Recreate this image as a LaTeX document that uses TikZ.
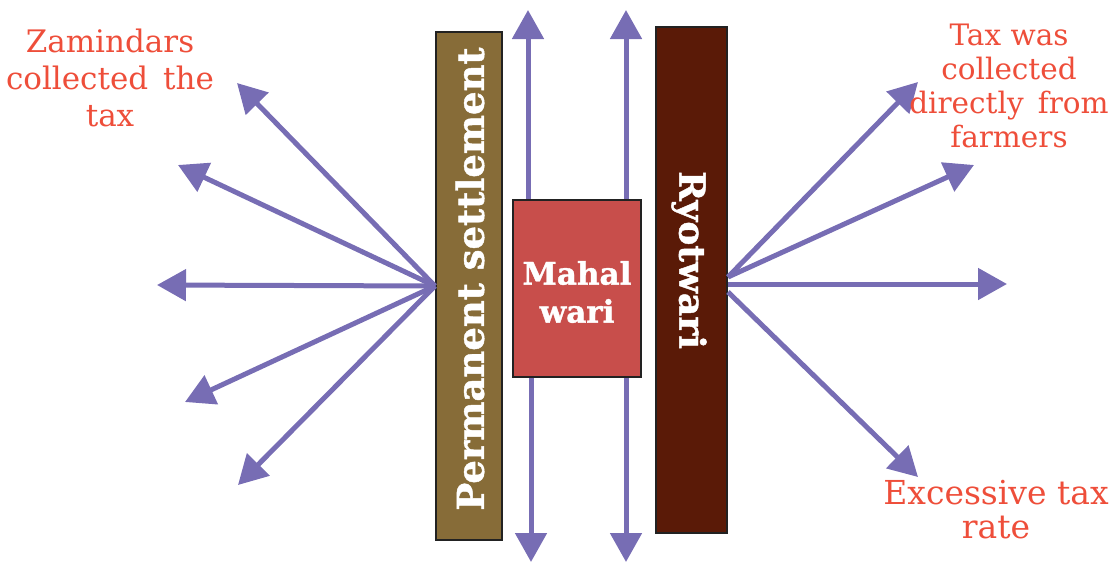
\documentclass[tikz,border=0pt]{standalone}
\usepackage{fontspec}
\setmainfont{DejaVu Serif}
\newfontfamily\heavyserif[FakeBold=1.2]{DejaVu Serif Bold}
\usetikzlibrary{arrows.meta,calc}
\definecolor{arr}{HTML}{776DB4}
\definecolor{lab}{HTML}{EE4E3A}
\definecolor{permc}{HTML}{876C38}
\definecolor{ryotc}{HTML}{5A1A07}
\definecolor{mahc}{HTML}{C84E4B}
\definecolor{edge}{HTML}{222222}
\begin{document}
\begin{tikzpicture}[x=1pt,y=-1pt,
  fan/.style={draw=arr,line width=5pt,-{Triangle[width=31pt,length=29pt]}},
  sysbox/.style={draw=edge,line width=2pt,inner sep=0pt},
  boxtext/.style={text=white,inner sep=0pt,align=center},
  label/.style={text=lab,align=center,inner sep=0pt}]
\useasboundingbox (0,0) rectangle (1113,563);
% vertical arrows (behind Mahalwari)
\coordinate (t1) at (528,10);
\coordinate (t2) at (626,10);
\coordinate (b1) at (531,562);
\coordinate (b2) at (626,562);
\node[sysbox,fill=mahc,minimum width=128pt,minimum height=177pt] (mw) at (577,288.5) {};
\draw[fan] (mw.north -| t1) -- (t1);
\draw[fan] (mw.north -| t2) -- (t2);
\draw[fan] (mw.south -| b1) -- (b1);
\draw[fan] (mw.south -| b2) -- (b2);
\node[sysbox,fill=mahc,minimum width=128pt,minimum height=177pt] (mw2) at (mw) {};
\node[boxtext,font=\heavyserif\fontsize{31}{38}\selectfont] (mwt) at (577,292) {Mahal\\wari};
% Permanent settlement
\node[sysbox,fill=permc,minimum width=66pt,minimum height=508pt] (ps) at (469,286) {};
\node[boxtext,rotate=90,font=\heavyserif\fontsize{37}{40}\selectfont] (pst) at (470,279) {Permanent settlement};
% Ryotwari
\node[sysbox,fill=ryotc,minimum width=71pt,minimum height=506pt] (ry) at (691.5,280) {};
\node[boxtext,rotate=-90,font=\heavyserif\fontsize{36}{40}\selectfont] (ryt) at (689,260) {Ryotwari};
% left fan
\coordinate (l1) at (237,83);
\coordinate (l2) at (178,165);
\coordinate (l3) at (157,285);
\coordinate (l4) at (185,402);
\coordinate (l5) at (238,485);
\foreach \t in {l1,l2,l3,l4,l5} \draw[fan] (ps.west) -- (\t);
% right fan
\coordinate (r1) at (918,82);
\coordinate (r2) at (974,165);
\coordinate (r3) at (1007,284);
\coordinate (r4) at (918,477);
\draw[fan] ($(ry.east)+(0,-3)$) -- (r1);
\draw[fan] ($(ry.east)+(0,-3)$) -- (r2);
\draw[fan] ($(ry.east)+(0,4)$) -- (r3);
\draw[fan] ($(ry.east)+(0,12)$) -- (r4);
% labels
\node[label,font=\fontsize{31}{37}\selectfont] (zl) at (110,78) {Zamindars\\collected\, the\\tax};
\node[label,font=\fontsize{29.5}{34}\selectfont] (tl) at (1009,86) {Tax was\\collected\\directly\, from\\farmers};
\node[label,font=\fontsize{33}{34}\selectfont] (el) at (996,510) {Excessive tax\\rate};
\end{tikzpicture}
\end{document}
